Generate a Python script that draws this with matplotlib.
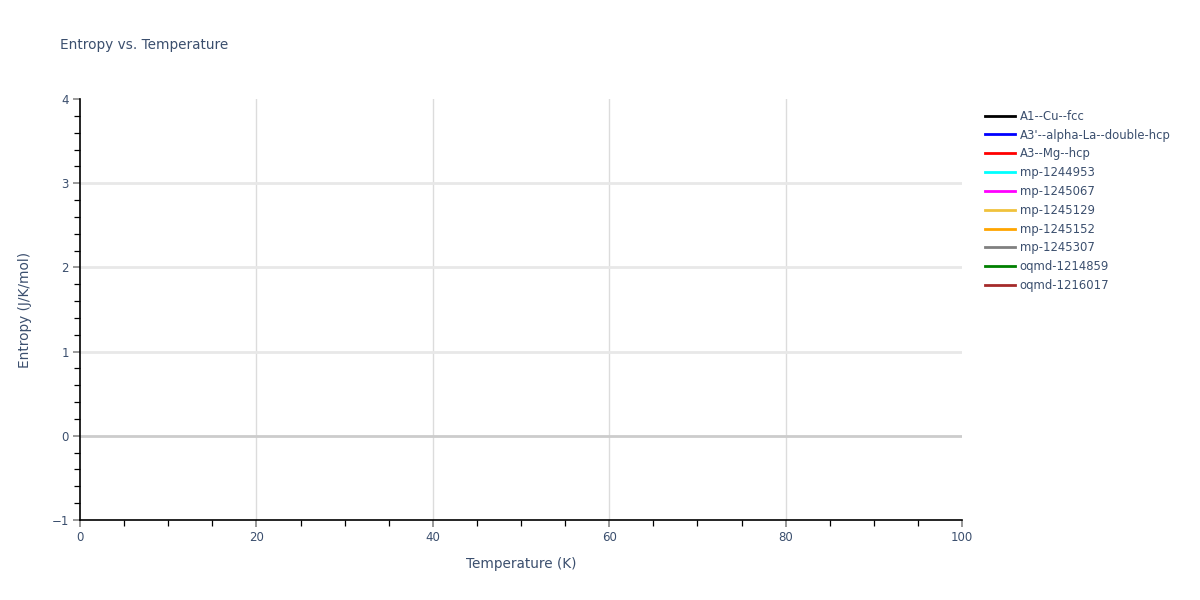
import matplotlib
matplotlib.use('Agg')
import matplotlib.pyplot as plt
from matplotlib.ticker import MultipleLocator

# series shown in the legend (no points are drawn in the reference)
names = ['A1--Cu--fcc', "A3'--alpha-La--double-hcp", 'A3--Mg--hcp',
         'mp-1244953', 'mp-1245067', 'mp-1245129', 'mp-1245152',
         'mp-1245307', 'oqmd-1214859', 'oqmd-1216017']
colors = ['black', 'blue', 'red', 'cyan', 'magenta', '#f0c23c',
          'orange', 'gray', 'green', 'brown']
temps = [[] for _ in names]
entropy = [[] for _ in names]

x_range = (0, 100)
y_range = (-1, 4)
x_ticks = [0, 20, 40, 60, 80, 100]
y_ticks = [-1, 0, 1, 2, 3, 4]

txt = '#3b4f6e'
plt.rcParams['font.family'] = ['DejaVu Sans']

fig = plt.figure(figsize=(12, 6), dpi=100)
ax = fig.add_axes([80/1200, 1-520/600, 882/1200, 421/600])

for t, s, n, c in zip(temps, entropy, names, colors):
    ax.plot(t, s, color=c, lw=2, label=n)

ax.set_xlim(*x_range)
ax.set_ylim(*y_range)
ax.set_xticks(x_ticks)
ax.set_yticks(y_ticks)
ax.xaxis.set_minor_locator(MultipleLocator(5))
ax.yaxis.set_minor_locator(MultipleLocator(0.2))
ax.set_yticklabels(['\u22121', '0', '1', '2', '3', '4'])

for x in x_ticks[1:-1]:
    ax.axvline(x, color='#dcdcdc', lw=1, zorder=0)
for y in [1, 2, 3]:
    ax.axhline(y, color='#e8e8e8', lw=2, zorder=0)
ax.axhline(0, color='#cccccc', lw=2, zorder=0)

for sp in ['top', 'right']:
    ax.spines[sp].set_visible(False)
for sp in ['left', 'bottom']:
    ax.spines[sp].set_color('black')
    ax.spines[sp].set_linewidth(1.2)

ax.tick_params(which='major', direction='out', length=5, width=1.2,
               color='#888888', labelcolor=txt, labelsize=8.5, pad=3)
ax.tick_params(which='minor', direction='out', length=4, width=0.9, color='black')

ax.set_xlabel('Temperature (K)', color=txt, fontsize=9.8, labelpad=9)
ax.set_ylabel('Entropy (J/K/mol)', color=txt, fontsize=9.8, labelpad=14)
fig.text(60/1200, 1-45/600, 'Entropy vs. Temperature', color=txt,
         fontsize=9.8, va='center', ha='left')

fig.legend(loc='upper left', bbox_to_anchor=(980/1200, 1-105/600),
           frameon=False, fontsize=8.4, labelcolor=txt, handlelength=2.6,
           handletextpad=0.4, labelspacing=0.5, borderaxespad=0)

fig.savefig('out.png', dpi=100)
